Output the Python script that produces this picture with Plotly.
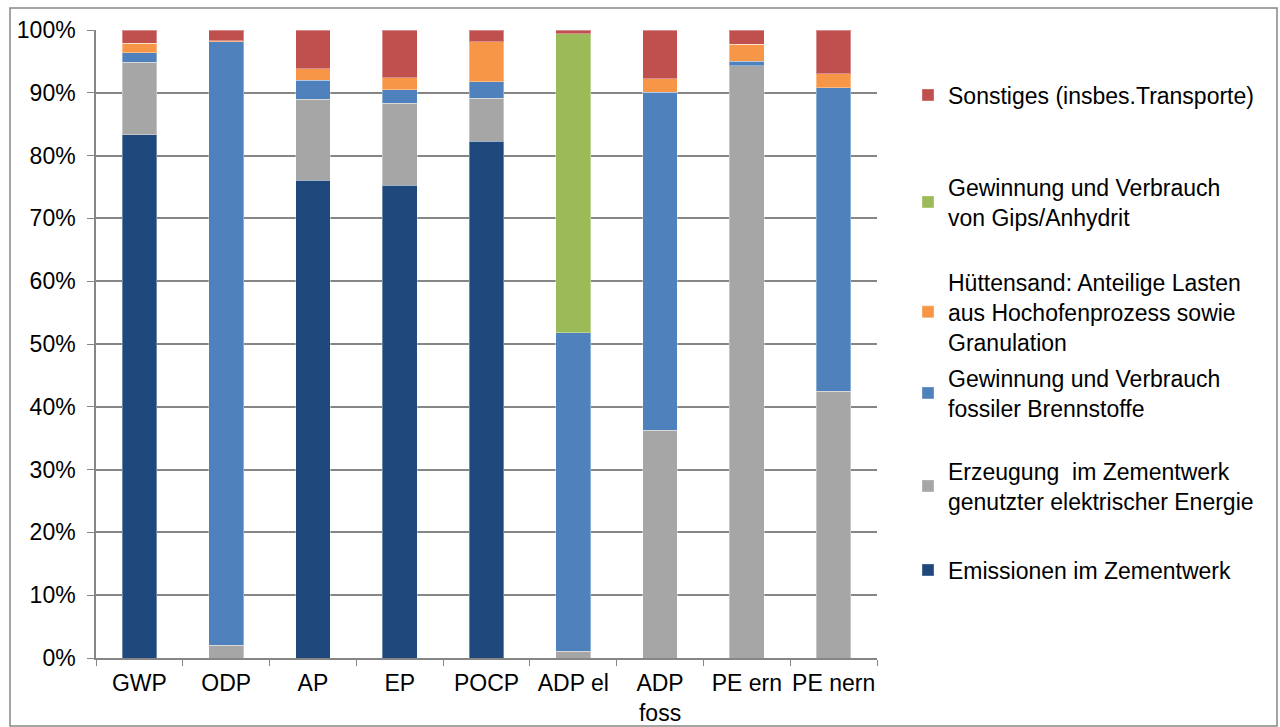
import plotly.graph_objects as go

categories = ["GWP", "ODP", "AP", "EP", "POCP", "ADP el", "ADP<br>foss", "PE ern", "PE nern"]

emissionen = [83.3, 0.0, 76.1, 75.3, 82.3, 0.0, 0.0, 0.0, 0.0]
erzeugung = [11.6, 2.0, 12.9, 13.0, 6.8, 1.1, 36.3, 94.3, 42.5]
fossil = [1.5, 96.1, 3.0, 2.2, 2.7, 50.7, 53.8, 0.7, 48.3]
huettensand = [1.5, 0.2, 1.8, 1.9, 6.3, 0.0, 2.1, 2.7, 2.2]
gips = [0.0, 0.0, 0.0, 0.0, 0.0, 47.6, 0.0, 0.0, 0.0]
sonstiges = [2.1, 1.7, 6.2, 7.6, 1.9, 0.6, 7.8, 2.3, 7.0]

series = [
    ("Emissionen im Zementwerk", emissionen, "#1F497D"),
    ("Erzeugung  im Zementwerk<br>genutzter elektrischer Energie", erzeugung, "#A6A6A6"),
    ("Gewinnung und Verbrauch<br>fossiler Brennstoffe", fossil, "#4F81BD"),
    ("Hüttensand: Anteilige Lasten<br>aus Hochofenprozess sowie<br>Granulation", huettensand, "#F79646"),
    ("Gewinnung und Verbrauch<br>von Gips/Anhydrit", gips, "#9BBB59"),
    ("Sonstiges (insbes.Transporte)", sonstiges, "#C0504D"),
]

# legend vertical centres (pixels from top) for each series, in series order
legend_centres_px = [570, 486, 393, 312, 202, 95]

PLOT_L, PLOT_R, PLOT_T, PLOT_B = 96, 877, 30, 658
W, H = 1280, 727
pw, ph = PLOT_R - PLOT_L, PLOT_B - PLOT_T
FONT = "Liberation Sans, Arial, sans-serif"
FS = 23

fig = go.Figure()
layout_legends = {}
for i, (name, vals, col) in enumerate(series):
    lname = "legend" if i == 0 else f"legend{i+1}"
    fig.add_trace(go.Bar(
        x=categories, y=[v / 100 for v in vals], name=name,
        marker=dict(color=col, line=dict(color="rgba(255,255,255,0.35)", width=1)),
        legend=lname,
    ))
    layout_legends[lname] = dict(
        x=(908 - PLOT_L) / pw, xanchor="left",
        y=(PLOT_B - legend_centres_px[i]) / ph, yanchor="middle",
        font=dict(family=FONT, size=FS, color="#000000"),
        bgcolor="rgba(0,0,0,0)", itemclick=False, borderwidth=0,
    )

fig.update_layout(
    barmode="stack",
    bargap=0.6,
    width=W, height=H,
    margin=dict(l=PLOT_L, r=W - PLOT_R, t=PLOT_T, b=H - PLOT_B, autoexpand=False),
    paper_bgcolor="white", plot_bgcolor="white",
    font=dict(family=FONT, size=FS, color="#000000"),
    showlegend=True,
    **layout_legends,
)

fig.update_xaxes(
    type="category", tickson="boundaries", ticks="outside", ticklen=6,
    tickcolor="#868686", showline=True, linecolor="#868686", linewidth=1.5,
    showgrid=False, tickfont=dict(size=FS), ticklabelstandoff=4,
    tickangle=0, automargin=False,
)
fig.update_yaxes(
    range=[0, 1], tickformat=".0%", dtick=0.1, ticks="outside", ticklen=7,
    tickcolor="#868686", showline=True, linecolor="#868686", linewidth=1.5,
    showgrid=True, gridcolor="#868686", gridwidth=1.5, zeroline=False,
    tickfont=dict(size=FS), ticklabelstandoff=7, automargin=False,
)

# outer chart border
fig.add_shape(
    type="rect", xref="paper", yref="paper",
    x0=(10 - PLOT_L) / pw, x1=(1277 - PLOT_L) / pw,
    y0=(PLOT_B - 726) / ph, y1=(PLOT_B - 8) / ph,
    line=dict(color="#868686", width=1.5), fillcolor="rgba(0,0,0,0)", layer="below",
)

fig.write_html(
    "out.html",
    config={"displayModeBar": False},
    post_script="document.body.style.margin='0px';document.body.style.overflow='hidden';",
)
